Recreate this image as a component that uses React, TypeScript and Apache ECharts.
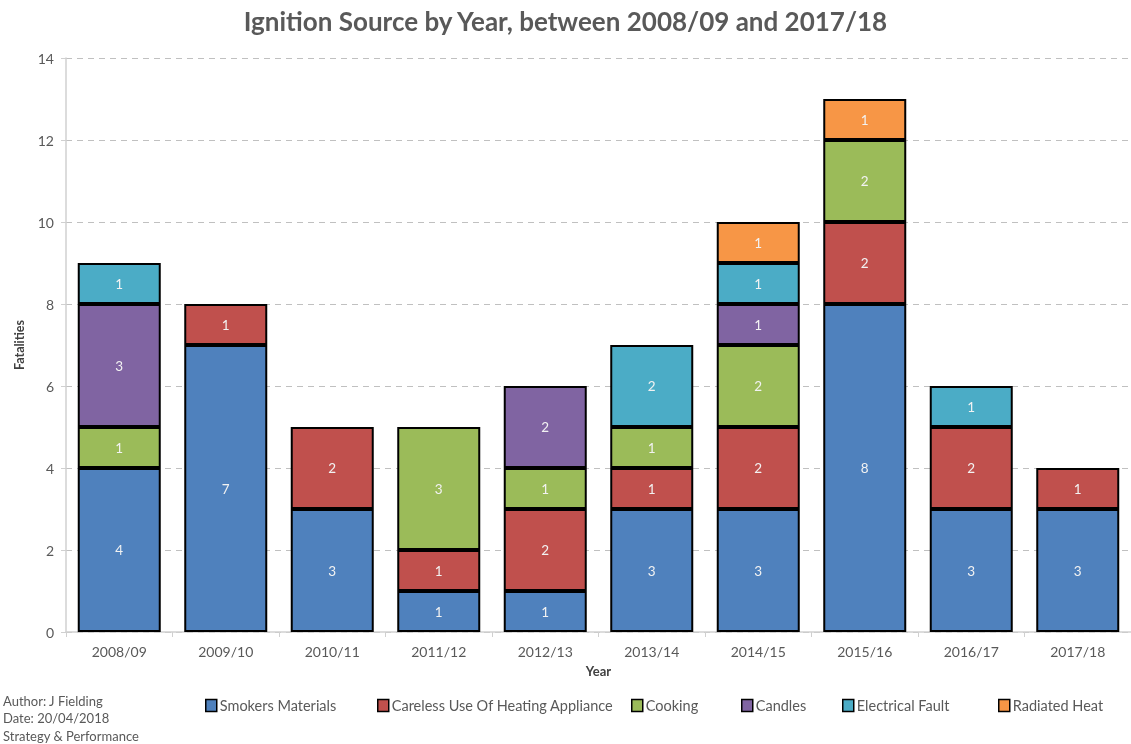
import React, { useEffect, useRef } from "react";
import * as echarts from "echarts";

const years = ["2008/09", "2009/10", "2010/11", "2011/12", "2012/13", "2013/14", "2014/15", "2015/16", "2016/17", "2017/18"];
const smokers = [4, 7, 3, 1, 1, 3, 3, 8, 3, 3];
const careless = [0, 1, 2, 1, 2, 1, 2, 2, 2, 1];
const cooking = [1, 0, 0, 3, 1, 1, 2, 2, 0, 0];
const candles = [3, 0, 0, 0, 2, 0, 1, 0, 0, 0];
const electrical = [1, 0, 0, 0, 0, 2, 1, 0, 1, 0];
const radiated = [0, 0, 0, 0, 0, 0, 1, 1, 0, 0];

const seriesDefs = [
  { name: "Smokers Materials", data: smokers, color: "#4F81BD" },
  { name: "Careless Use Of Heating Appliance", data: careless, color: "#C0504D" },
  { name: "Cooking", data: cooking, color: "#9BBB59" },
  { name: "Candles", data: candles, color: "#8064A2" },
  { name: "Electrical Fault", data: electrical, color: "#4BACC6" },
  { name: "Radiated Heat", data: radiated, color: "#F79646" },
];
const legendLefts = [205, 377, 631, 741, 842, 998];
const authorLines = ["Author: J Fielding", "Date: 20/04/2018", "Strategy & Performance"];

const FONT = "Lato, 'Open Sans', sans-serif";

export default function App() {
  const ref = useRef<HTMLDivElement>(null);
  useEffect(() => {
    if (!ref.current) return;
    const chart = echarts.init(ref.current, undefined, { renderer: "svg" });
    chart.setOption({
      animation: false,
      textStyle: { fontFamily: FONT },
      title: {
        text: "Ignition Source by Year, between 2008/09 and 2017/18",
        left: "center",
        top: 3,
        textStyle: { fontSize: 26, fontWeight: "bold", color: "#595959", fontFamily: FONT },
      },
      grid: { left: 66, top: 58, width: 1068, height: 574, containLabel: false },
      legend: seriesDefs.map((s, i) => ({
        data: [s.name],
        top: 698,
        left: legendLefts[i],
        padding: 0,
        itemWidth: 11,
        itemHeight: 12,
        itemGap: 0,
        icon: "rect",
        textStyle: { fontSize: 14.5, color: "#595959", fontFamily: FONT, padding: [0, 0, 0, -2] },
        itemStyle: { borderColor: "#000", borderWidth: 1.5 },
      })),
      graphic: authorLines.map((t, i) => ({
        type: "text",
        left: 3,
        top: 694 + i * 17.5,
        style: { text: t, fontSize: 13, fill: "#595959", fontFamily: FONT },
      })),
      xAxis: {
        type: "category",
        data: years,
        name: "Year",
        nameLocation: "middle",
        nameGap: 32,
        nameTextStyle: { fontSize: 13, fontWeight: "bold", color: "#404040" },
        axisLine: { lineStyle: { color: "#d0d0d0", width: 1.5 } },
        axisTick: { show: true, length: 5, lineStyle: { color: "#d0d0d0" } },
        axisLabel: { fontSize: 14, color: "#595959", margin: 12 },
      },
      yAxis: {
        type: "value",
        min: 0,
        max: 14,
        interval: 2,
        name: "Fatalities",
        nameLocation: "middle",
        nameGap: 40,
        nameRotate: 90,
        nameTextStyle: { fontSize: 12.5, fontWeight: "bold", color: "#404040" },
        axisLine: { show: true, lineStyle: { color: "#d0d0d0", width: 1.5 } },
        axisTick: { show: true, length: 5, lineStyle: { color: "#d0d0d0" } },
        axisLabel: { fontSize: 14, color: "#595959", margin: 12 },
        splitLine: { lineStyle: { color: "#c0c0c0", type: [6, 5], width: 1.2 } },
      },
      series: seriesDefs.map((s) => ({
        name: s.name,
        type: "bar",
        stack: "total",
        barWidth: 83,
        data: s.data.map((v) => (v === 0 ? null : v)),
        itemStyle: { color: s.color, borderColor: "#000", borderWidth: 2 },
        label: { show: true, position: "inside", color: "#f2f2f2", fontSize: 13.5, fontFamily: FONT },
      })),
    });
    return () => chart.dispose();
  }, []);
  return (
    <div style={{ position: "fixed", left: 0, top: 0, width: 1131, height: 744, overflow: "hidden" }}>
      <div ref={ref} style={{ width: 1131, height: 744 }} />
    </div>
  );
}
